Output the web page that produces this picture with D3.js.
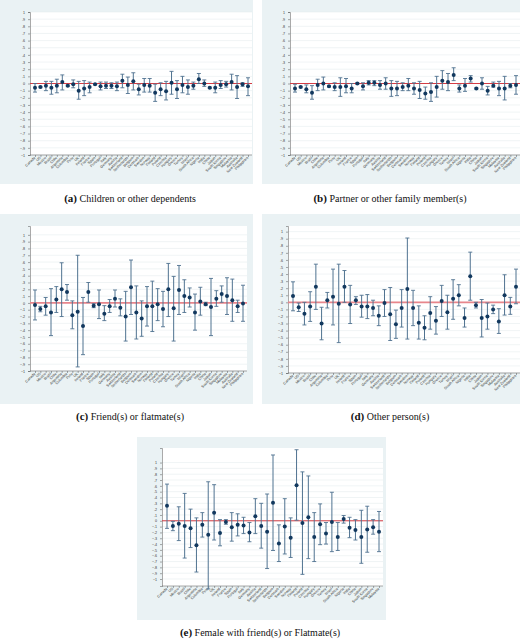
<!DOCTYPE html>
<html><head><meta charset="utf-8">
<script src="https://cdn.jsdelivr.net/npm/d3@7"></script>
<style>body{margin:0;background:#fff}svg{display:block}</style>
</head><body>
<svg id="chart" width="520" height="643"></svg>
<script>
var countries = ["Canada","US","Mexico","Brazil","Chile","Argentina","Colombia","Peru","UK","Ireland","France","Spain","Portugal","Italy","Germany","Austria","Switzerland","Netherlands","Belgium","Denmark","Sweden","Norway","Finland","Poland","Czechia","Hungary","Greece","Turkey","Israel","South Africa","Nigeria","India","China","Japan","South Korea","Singapore","Malaysia","Australia","New Zealand","Philippines"];
var yTicks = [-1,-.9,-.8,-.7,-.6,-.5,-.4,-.3,-.2,-.1,0,.1,.2,.3,.4,.5,.6,.7,.8,.9,1];

// estimate, lower, upper per country
var estA = [-.06,-.05,-.03,-.06,-.03,.02,-.03,-.01,-.10,-.07,-.05,-.01,-.04,-.03,-.03,-.04,.04,-.02,.03,-.08,-.02,-.03,-.13,-.08,-.11,.01,-.08,-.02,-.05,-.03,.06,0,-.06,-.06,-.02,-.01,.02,-.05,-.01,-.04];
var loA = [-.12,-.06,-.10,-.15,-.13,-.09,-.04,-.06,-.22,-.17,-.13,-.02,-.09,-.07,-.07,-.10,-.06,-.14,-.09,-.16,-.12,-.12,-.25,-.17,-.23,-.15,-.21,-.13,-.15,-.08,0,-.04,-.07,-.13,-.07,-.05,-.09,-.21,-.04,-.17];
var hiA = [0,-.04,.03,.03,.06,.12,-.02,.05,.03,.04,.02,0,.02,.02,.01,.02,.13,.09,.15,-.01,.07,.07,-.01,.01,.03,.17,.04,.10,.05,.02,.14,.05,-.05,.02,.04,.03,.13,.11,.01,.08];

var estB = [-.07,-.05,-.08,-.13,-.02,0,-.04,-.05,-.05,-.04,-.07,0,-.04,.01,.01,-.02,0,-.07,-.07,-.05,-.03,-.07,-.09,-.14,-.12,-.05,.04,.02,.12,-.07,-.03,.07,-.07,0,-.10,-.03,-.07,-.07,-.03,-.02];
var loB = [-.12,-.06,-.13,-.22,-.10,-.09,-.05,-.10,-.18,-.13,-.13,-.01,-.09,-.02,-.03,-.08,-.08,-.18,-.17,-.10,-.10,-.15,-.21,-.22,-.25,-.19,-.08,-.10,.04,-.12,-.11,.02,-.08,-.08,-.16,-.05,-.17,-.23,-.06,-.15];
var hiB = [-.01,-.04,-.02,-.03,.06,.09,-.03,.01,.08,.07,0,.01,.01,.04,.04,.04,.08,.04,.03,.01,.07,.01,.03,-.05,.01,.10,.18,.14,.22,-.02,.07,.11,-.06,.08,-.04,.02,.03,.10,0,.11];

var estC = [-.03,-.09,-.05,-.14,.05,.20,.16,-.18,-.13,-.34,.16,-.04,-.02,-.16,-.05,.06,-.07,-.20,.23,-.14,-.23,-.05,-.05,-.02,-.09,.20,-.08,.19,.10,.08,-.14,.02,-.02,-.06,.06,.13,.10,.04,-.05,-.01];
var loC = [-.25,-.13,-.18,-.48,-.14,-.20,.04,-.38,-.94,-.76,.01,-.07,-.23,-.26,-.14,-.06,-.19,-.56,-.17,-.53,-.49,-.34,-.42,-.26,-.35,-.20,-.56,-.17,-.14,-.06,-.40,-.18,-.04,-.48,-.05,.01,-.17,-.27,-.14,-.27];
var hiC = [.19,-.05,.08,.21,.24,.59,.27,.03,.70,.08,.30,-.01,.19,-.04,.05,.19,.06,.17,.63,.25,.03,.24,.32,.21,.17,.58,.39,.55,.34,.22,.13,.23,.01,.36,.18,.25,.37,.35,.04,.26];

var estD = [.09,-.07,-.16,-.06,.22,-.30,.03,.08,-.02,.22,-.03,.03,-.06,-.06,-.08,-.19,-.01,-.17,-.31,-.08,.19,-.08,-.29,-.36,-.15,-.26,.02,-.14,.05,.10,-.22,.37,-.04,-.22,-.20,-.10,-.27,.10,-.06,.22];
var loD = [-.12,-.13,-.32,-.27,-.10,-.53,-.08,-.32,-.57,0,-.30,-.03,-.21,-.23,-.19,-.33,-.20,-.54,-.51,-.35,-.52,-.33,-.52,-.53,-.38,-.45,-.20,-.38,-.24,-.05,-.35,.03,-.08,-.49,-.38,-.16,-.44,-.18,-.17,-.02];
var hiD = [.29,-.01,0,.15,.54,-.07,.14,.47,.54,.45,.24,.08,.10,.11,.03,-.05,.18,.21,-.11,.18,.91,.17,-.05,-.19,.08,-.06,.24,.10,.32,.25,-.08,.71,0,.04,-.01,-.04,-.09,.39,.07,.47];

var estE = [.26,-.09,-.05,-.09,-.13,-.42,-.07,-.24,.14,-.21,-.02,-.11,-.07,-.08,-.20,.08,-.09,-.19,.31,-.39,-.10,-.29,.61,-.04,.06,-.28,-.06,-.22,-.02,-.28,.03,-.12,-.16,-.28,-.15,-.11,-.19];
var loE = [-.13,-.17,-.34,-.64,-.46,-.88,-.28,-1.17,-.33,-.43,-.06,-.35,-.26,-.22,-.36,-.22,-.47,-.82,-.51,-.70,-.57,-.63,.01,-.92,-.65,-.70,-.41,-.40,-.53,-.51,-.04,-.29,-.33,-.73,-.54,-.23,-.53];
var hiE = [.63,-.01,.24,.47,.20,.05,.14,.67,.62,.02,.02,.14,.12,.06,-.03,.38,.30,.46,1.13,-.07,.38,.05,1.22,.84,.77,.14,.29,-.03,.49,-.03,.09,.06,.02,.18,.25,.02,.16];

var panels = [
  {bg:[0,0,253,184], plot:[30,12,252,155], dom:[-1,1], est:estA, lo:loA, hi:hiA, tag:"(a)", title:"Children or other dependents", cap:[130,202]},
  {bg:[262,0,520,184], plot:[290,12,520,155], dom:[-1,1], est:estB, lo:loB, hi:hiB, tag:"(b)", title:"Partner or other family member(s)", cap:[390,202]},
  {bg:[0,214,253,404], plot:[30,226,247,371], dom:[-1,1.13], est:estC, lo:loC, hi:hiC, tag:"(c)", title:"Friend(s) or flatmate(s)", cap:[130,420]},
  {bg:[262,214,520,404], plot:[288,226,520,373], dom:[-1,1.08], est:estD, lo:loD, hi:hiD, tag:"(d)", title:"Other person(s)", cap:[390,420]},
  {bg:[137,437,386,620], plot:[162,448,383,586], dom:[-1.12,1.25], est:estE, lo:loE, hi:hiE, tag:"(e)", title:"Female with friend(s) or Flatmate(s)", cap:[260,636]}
];

var svg = d3.select("#chart");

panels.forEach(function(p) {
  var n = p.est.length;
  var names = countries.slice(0, n);
  var g = svg.append("g");
  g.append("rect").attr("x", p.bg[0]).attr("y", p.bg[1])
    .attr("width", p.bg[2] - p.bg[0]).attr("height", p.bg[3] - p.bg[1])
    .attr("fill", "#eaf2f4");
  g.append("rect").attr("x", p.plot[0]).attr("y", p.plot[1])
    .attr("width", p.plot[2] - p.plot[0]).attr("height", p.plot[3] - p.plot[1])
    .attr("fill", "#fff");

  var x = d3.scalePoint().domain(names).range([p.plot[0] + 5, p.plot[2] - 4]);
  var y = d3.scaleLinear().domain(p.dom).range([p.plot[3], p.plot[1]]);

  // grid
  g.selectAll(".grid").data(yTicks).enter().append("line")
    .attr("x1", p.plot[0]).attr("x2", p.plot[2])
    .attr("y1", function(d){ return y(d); }).attr("y2", function(d){ return y(d); })
    .attr("stroke", "#e6ecef").attr("stroke-width", 0.6);

  var yAxis = g.append("g").attr("transform", "translate(" + p.plot[0] + ",0)")
    .call(d3.axisLeft(y).tickValues(yTicks).tickSize(2)
      .tickFormat(function(d){ return d3.format(".1~f")(d).replace("0.", "."); }));
  yAxis.selectAll("text").attr("font-size", 3.6).attr("font-family", "Liberation Sans").attr("fill", "#333");
  yAxis.selectAll("line,path").attr("stroke", "#555").attr("stroke-width", 0.5);

  var xAxis = g.append("g").attr("transform", "translate(0," + p.plot[3] + ")")
    .call(d3.axisBottom(x).tickSize(2).tickSizeOuter(0));
  xAxis.select("path").attr("d", "M" + p.plot[0] + ",0H" + p.plot[2]);
  xAxis.selectAll("line,path").attr("stroke", "#555").attr("stroke-width", 0.5);
  xAxis.selectAll("text").attr("font-size", 3.6).attr("font-family", "Liberation Sans").attr("fill", "#333")
    .attr("text-anchor", "end").attr("dy", 0).attr("y", 3)
    .attr("transform", "rotate(-45)");
  xAxis.selectAll("text").attr("transform", function(){ return "translate(0,3) rotate(-45)"; }).attr("y", 0).attr("x", 0);

  // zero line
  g.append("line").attr("x1", p.plot[0]).attr("x2", p.plot[2])
    .attr("y1", y(0)).attr("y2", y(0))
    .attr("stroke", p.tag === "(c)" || p.tag === "(d)" ? "#e8868c" : "#d43d45")
    .attr("stroke-width", p.tag === "(c)" || p.tag === "(d)" ? 1.6 : 1);

  var idx = d3.range(n);
  var bars = g.selectAll(".bar").data(idx).enter().append("g");
  bars.append("line")
    .attr("x1", function(i){ return x(names[i]); }).attr("x2", function(i){ return x(names[i]); })
    .attr("y1", function(i){ return y(p.lo[i]); }).attr("y2", function(i){ return y(p.hi[i]); })
    .attr("stroke", "#4f7290").attr("stroke-width", 1);
  [p.lo, p.hi].forEach(function(arr) {
    bars.append("line")
      .attr("x1", function(i){ return x(names[i]) - 2; }).attr("x2", function(i){ return x(names[i]) + 2; })
      .attr("y1", function(i){ return y(arr[i]); }).attr("y2", function(i){ return y(arr[i]); })
      .attr("stroke", "#4f7290").attr("stroke-width", 0.9);
  });
  bars.append("circle")
    .attr("cx", function(i){ return x(names[i]); })
    .attr("cy", function(i){ return y(p.est[i]); })
    .attr("r", 2).attr("fill", "#12385e");

  var cap = svg.append("text").attr("x", p.cap[0]).attr("y", p.cap[1])
    .attr("text-anchor", "middle").attr("font-family", "Liberation Serif")
    .attr("font-size", 10).attr("fill", "#111");
  cap.append("tspan").attr("font-weight", "bold").attr("font-size", 11).text(p.tag);
  cap.append("tspan").text(" " + p.title);
});
</script>
</body></html>
